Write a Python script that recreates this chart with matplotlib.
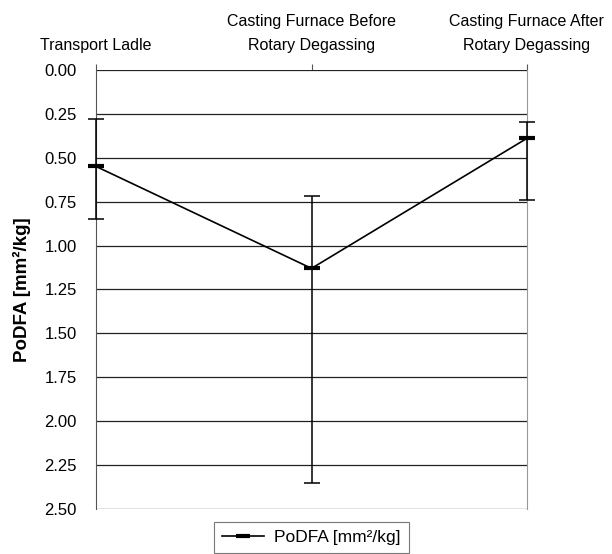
import numpy as np
import matplotlib.pyplot as plt
from matplotlib.lines import Line2D

plt.rcParams['font.family'] = ['Liberation Sans', 'DejaVu Sans']

categories = ['Transport Ladle', 'Casting Furnace Before\nRotary Degassing',
              'Casting Furnace After\nRotary Degassing']
podfa = [0.55, 1.13, 0.39]
err_low = [0.27, 0.41, 0.095]
err_high = [0.30, 1.22, 0.35]

x = np.arange(len(categories))

fig = plt.figure(figsize=(6.12, 5.54), dpi=100)
ax = fig.add_axes([0.157, 0.081, 0.704, 0.793])

# error bars first, then line with short thick dash markers
eb = ax.errorbar(x, podfa, yerr=[err_low, err_high], fmt='none', ecolor='black',
                 elinewidth=1.1, capsize=6, capthick=1.1, zorder=3)
for art in eb.lines[1] + eb.lines[2]:
    art.set_clip_on(False)
ax.plot(x, podfa, color='black', lw=1.2, marker='_', markersize=12, mew=3,
        zorder=4, clip_on=False)

ax.set_ylim(2.5, 0)
ax.set_xlim(0, 2)
yt = np.arange(0, 2.51, 0.25)
ax.set_yticks(yt)
ax.set_yticklabels(['%.2f' % v for v in yt], fontsize=12)
ax.yaxis.grid(True, color='#222222', lw=0.9)
ax.set_axisbelow(True)
ax.tick_params(axis='y', length=0, pad=14)

ax.xaxis.tick_top()
ax.set_xticks(x)
ax.set_xticklabels(categories, fontsize=11.5, linespacing=1.75)
ax.tick_params(axis='x', length=4, direction='out', color='#555555', pad=8)

for s in ['top', 'bottom']:
    ax.spines[s].set_visible(False)
ax.spines['left'].set_color('#555555')
ax.spines['right'].set_color('#999999')

ax.set_ylabel('PoDFA [mm²/kg]', fontsize=13.5, fontweight='bold')
ax.yaxis.set_label_coords(-0.15, 0.5)

handle = Line2D([], [], color='black', lw=1.2, marker='_', markersize=10, mew=3)
leg = ax.legend([handle], ['PoDFA [mm²/kg]'], loc='upper center',
                bbox_to_anchor=(0.5, -0.03), frameon=True, fancybox=False,
                edgecolor='#555555', fontsize=12.5, handlelength=2.4,
                borderpad=0.45, handletextpad=0.6, borderaxespad=0)
leg.get_frame().set_linewidth(0.8)

fig.savefig('out.png', dpi=100)
